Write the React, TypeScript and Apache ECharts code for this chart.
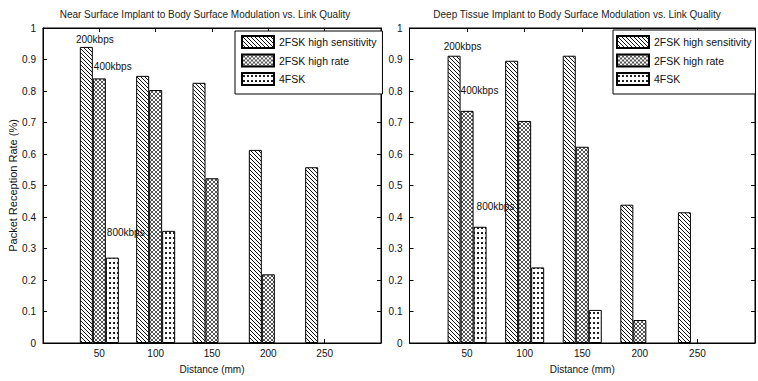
import React, { useEffect, useRef } from "react";
import * as echarts from "echarts";

const distances = [50, 100, 150, 200, 250];
const seriesNames = ["2FSK high sensitivity", "2FSK high rate", "4FSK"];
const nearHighSens = [0.94, 0.848, 0.826, 0.613, 0.558];
const nearHighRate = [0.84, 0.803, 0.523, 0.218, null];
const near4FSK = [0.271, 0.356, null, null, null];
const deepHighSens = [0.912, 0.896, 0.912, 0.439, 0.415];
const deepHighRate = [0.737, 0.705, 0.623, 0.073, null];
const deep4FSK = [0.369, 0.24, 0.105, null, null];
const titles = [
  "Near Surface Implant to Body Surface Modulation vs. Link Quality",
  "Deep Tissue Implant to Body Surface Modulation vs. Link Quality",
];
const rateLabels = ["200kbps", "400kbps", "800kbps"];

const FONT = "'Liberation Sans', Arial, sans-serif";

function makePattern(kind: string) {
  const w = 4;
  const h = kind === "dots" ? 5 : 4;
  const c = document.createElement("canvas");
  c.width = w;
  c.height = h;
  const ctx = c.getContext("2d")!;
  ctx.fillStyle = "#fff";
  ctx.fillRect(0, 0, w, h);
  if (kind === "diag") {
    ctx.fillStyle = "#111";
    for (let i = 0; i < 4; i++) ctx.fillRect(i, i, 1, 1);
  } else if (kind === "cross") {
    ctx.fillStyle = "#555";
    for (let i = 0; i < 4; i++) {
      ctx.fillRect(i, i, 1, 1);
      ctx.fillRect(3 - i, i, 1, 1);
    }
  } else {
    ctx.fillStyle = "#222";
    ctx.fillRect(1, 2, 2, 2);
  }
  return { image: c, repeat: "repeat" } as any;
}

export default function App() {
  const ref = useRef<HTMLDivElement>(null);
  useEffect(() => {
    if (!ref.current) return;
    const chart = echarts.init(ref.current, null, { renderer: "svg" });
    const patterns = [makePattern("diag"), makePattern("cross"), makePattern("dots")];
    const grids = [
      { left: 43, top: 28, width: 338, height: 315 },
      { left: 409.5, top: 28, width: 351, height: 315 },
    ];
    const datasets = [
      [nearHighSens, nearHighRate, near4FSK],
      [deepHighSens, deepHighRate, deep4FSK],
    ];
    // label offsets (pixels) relative to the top of each series' 50 mm bar
    const labelOffsets = [
      [[8.5, -7], [-5.5, -12], [-5.5, -25]],
      [[8.5, -9], [-6.5, -20], [-3.5, -20]],
    ];
    const xAxes: any[] = [];
    const yAxes: any[] = [];
    const series: any[] = [];
    const axisLine = { show: true, onZero: false, lineStyle: { color: "#000", width: 1 } };
    const tick = { show: true, inside: true, length: 4, lineStyle: { color: "#000" } };
    grids.forEach((g, gi) => {
      xAxes.push({
        gridIndex: gi,
        type: "value",
        min: 0,
        max: 300,
        interval: 50,
        position: "bottom",
        axisLine,
        axisTick: tick,
        splitLine: { show: false },
        axisLabel: {
          formatter: (v: number) => (v === 0 || v === 300 ? "" : String(v)),
          fontSize: 10,
          color: "#111",
          margin: 5,
          fontFamily: FONT,
        },
        name: "Distance (mm)",
        nameLocation: "middle",
        nameGap: 21,
        nameTextStyle: { fontSize: 10, color: "#111", fontFamily: FONT },
      });
      xAxes.push({
        gridIndex: gi,
        type: "value",
        min: 0,
        max: 300,
        interval: 50,
        position: "top",
        axisLine,
        axisTick: tick,
        splitLine: { show: false },
        axisLabel: { show: false },
      });
      yAxes.push({
        gridIndex: gi,
        type: "value",
        min: 0,
        max: 1,
        interval: 0.1,
        position: "left",
        axisLine,
        axisTick: tick,
        splitLine: { show: false },
        axisLabel: { fontSize: 10, color: "#111", margin: 7, fontFamily: FONT },
        name: gi === 0 ? "Packet Reception Rate (%)" : "",
        nameLocation: "middle",
        nameGap: 23,
        nameTextStyle: { fontSize: 11, color: "#111", fontFamily: FONT },
      });
      yAxes.push({
        gridIndex: gi,
        type: "value",
        min: 0,
        max: 1,
        interval: 0.1,
        position: "right",
        axisLine,
        axisTick: tick,
        splitLine: { show: false },
        axisLabel: { show: false },
      });
      datasets[gi].forEach((vals, si) => {
        const data = distances
          .map((d, i) => [d, vals[i]])
          .filter((p) => p[1] !== null);
        const first = vals[0] as number;
        series.push({
          type: "bar",
          name: seriesNames[si],
          xAxisIndex: gi * 2,
          yAxisIndex: gi * 2,
          barWidth: 13,
          barGap: "0%",
          data,
          itemStyle: { color: patterns[si], borderColor: "#000", borderWidth: 1 },
          emphasis: { disabled: true },
          markPoint: {
            symbol: "circle",
            symbolSize: 0,
            silent: true,
            data: [
              {
                coord: [distances[0], first],
                label: {
                  show: true,
                  formatter: rateLabels[si],
                  position: "inside",
                  offset: labelOffsets[gi][si],
                  align: si === 0 ? "center" : "left",
                  verticalAlign: "middle",
                  fontSize: 10,
                  color: "#111",
                  fontFamily: FONT,
                },
              },
            ],
          },
        });
      });
    });
    const legendBase = {
      orient: "vertical",
      itemWidth: 32,
      itemHeight: 12,
      itemGap: 4.5,
      borderColor: "#000",
      borderWidth: 1,
      backgroundColor: "#fff",
      selectedMode: false,
      icon: "rect",
      data: seriesNames,
      textStyle: { fontSize: 10.5, color: "#111", fontFamily: FONT },
    };
    const titleStyle = { fontSize: 10, fill: "#222", fontFamily: FONT, align: "center", verticalAlign: "middle" };
    chart.setOption({
      animation: false,
      backgroundColor: "#fff",
      graphic: [
        { type: "text", x: 205, y: 14, silent: true, style: { ...titleStyle, text: titles[0] } },
        { type: "text", x: 577, y: 14, silent: true, style: { ...titleStyle, text: titles[1] } },
      ],
      legend: [
        { ...legendBase, left: 235, top: 31, padding: [4, 6, 8, 6] },
        { ...legendBase, left: 613, top: 30, padding: [5, 4, 8, 3] },
      ],
      grid: grids.map((g) => ({ ...g, show: true, borderColor: "#000", borderWidth: 1, backgroundColor: "#fff" })),
      xAxis: xAxes,
      yAxis: yAxes,
      series,
    });
    return () => chart.dispose();
  }, []);
  return (
    <div
      ref={ref}
      style={{ position: "fixed", left: 0, top: 0, width: 758, height: 381 }}
    />
  );
}
